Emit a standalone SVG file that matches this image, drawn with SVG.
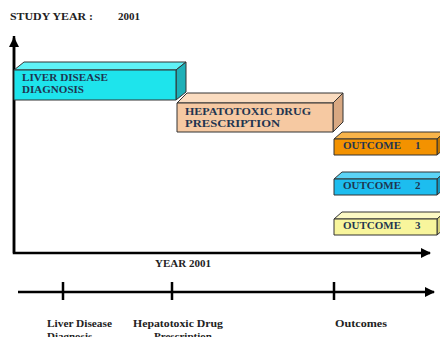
<svg xmlns="http://www.w3.org/2000/svg" width="440" height="337" viewBox="0 0 440 337">
<defs>
<style>
.t{font-family:"Liberation Serif","Times New Roman",serif;font-weight:bold;font-size:11px}
.bx{fill:#1f3550}
.lb{fill:#222}
.ol{stroke:#333;stroke-width:1;stroke-linejoin:round}
.ax{stroke:#000;stroke-width:2.5;fill:none}
</style>
<marker id="ah" viewBox="0 0 10 10" refX="9" refY="5" markerWidth="4" markerHeight="4" orient="auto" markerUnits="strokeWidth">
<path d="M0,0 L10,5 L0,10 Z" fill="#000"/>
</marker>
</defs>
<rect width="440" height="337" fill="#fff"/>
<text class="t lb" x="10" y="19.5" textLength="83" lengthAdjust="spacingAndGlyphs">STUDY YEAR :</text>
<text class="t lb" x="118" y="19.5">2001</text>
<g id="connectors">
<path class="ax" d="M14,36 L14,253 L430,253" marker-end="url(#ah)"/>
<path class="ax" d="M14,253 L14,38" marker-end="url(#ah)"/>
<path class="ax" d="M18,292 L434,292" marker-end="url(#ah)"/>
<path class="ax" d="M63,282 V300 M172,282 V300 M334,282 V300"/>
</g>
<g id="liver">
<polygon class="ol" points="14,70 24,62 186,62 176,70" fill="#5ff2f6"/>
<polygon class="ol" points="176,70 186,62 186,92 176,100" fill="#1eb0b8"/>
<rect class="ol" x="14" y="70" width="162" height="30" fill="#1ee4ec"/>
<text class="t bx" x="22" y="81" textLength="86" lengthAdjust="spacingAndGlyphs">LIVER DISEASE</text>
<text class="t bx" x="22" y="93" textLength="62" lengthAdjust="spacingAndGlyphs">DIAGNOSIS</text>
</g>
<g id="hepato">
<polygon class="ol" points="177,103 187,93 343,93 333,103" fill="#fadcc0"/>
<polygon class="ol" points="333,103 343,93 343,122 333,132" fill="#d8a882"/>
<rect class="ol" x="177" y="103" width="156" height="29" fill="#f6c9a2"/>
<text class="t bx" x="185" y="114.5" textLength="126" lengthAdjust="spacingAndGlyphs" fill="#2a2a2a">HEPATOTOXIC DRUG</text>
<text class="t bx" x="185" y="126.5" textLength="95" lengthAdjust="spacingAndGlyphs">PRESCRIPTION</text>
</g>
<g id="outcome1">
<polygon class="ol" points="334,139 342,132 445,132 437,139" fill="#f8b44a"/>
<polygon class="ol" points="437,139 445,132 445,148 437,155" fill="#c27600"/>
<rect class="ol" x="334" y="139" width="103" height="16" fill="#f39200"/>
<text class="t bx" x="343" y="149">OUTCOME</text>
<text class="t bx" x="415" y="149">1</text>
</g>
<g id="outcome2">
<polygon class="ol" points="334,179 342,172 445,172 437,179" fill="#5cd4f6"/>
<polygon class="ol" points="437,179 445,172 445,188 437,195" fill="#1396c0"/>
<rect class="ol" x="334" y="179" width="103" height="16" fill="#1dbdef"/>
<text class="t bx" x="343" y="189">OUTCOME</text>
<text class="t bx" x="415" y="189">2</text>
</g>
<g id="outcome3">
<polygon class="ol" points="334,219 342,212 445,212 437,219" fill="#fcf9c4"/>
<polygon class="ol" points="437,219 445,212 445,228 437,235" fill="#d6d27e"/>
<rect class="ol" x="334" y="219" width="103" height="16" fill="#f8f59c"/>
<text class="t bx" x="343" y="229">OUTCOME</text>
<text class="t bx" x="415" y="229">3</text>
</g>
<text class="t lb" x="183" y="267" text-anchor="middle">YEAR 2001</text>
<text class="t lb" x="47" y="327" textLength="65" lengthAdjust="spacingAndGlyphs">Liver Disease</text>
<text class="t lb" x="47" y="340">Diagnosis</text>
<text class="t lb" x="133" y="327" textLength="90" lengthAdjust="spacingAndGlyphs">Hepatotoxic Drug</text>
<text class="t lb" x="154" y="340">Prescription</text>
<text class="t lb" x="335" y="327" textLength="52" lengthAdjust="spacingAndGlyphs">Outcomes</text>
</svg>
